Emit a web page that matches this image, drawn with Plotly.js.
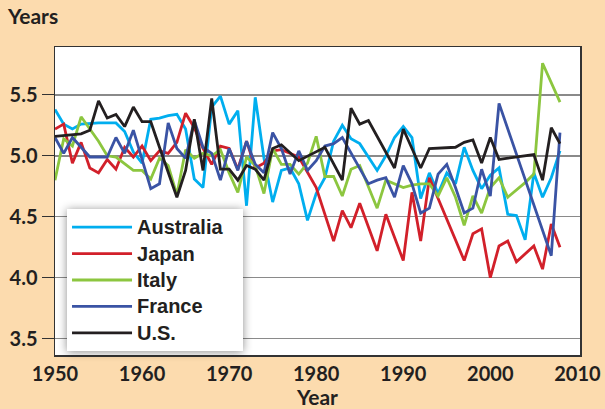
<!DOCTYPE html>
<html><head><meta charset="utf-8">
<script src="https://cdn.plot.ly/plotly-3.0.1.min.js"></script>
<style>html,body{margin:0;padding:0;background:#FCDBAE;}#chart{width:605px;height:409px;}</style>
</head><body><div id="chart"></div>
<script>
const years = [];
for (let y = 1950; y <= 2008; y++) years.push(y);

// values 1950..2008 (null = no visible vertex, line connects across)
const australia = [5.38,5.26,5.22,5.26,null,5.27,null,5.27,5.20,5.03,4.94,5.30,5.31,5.33,5.34,5.22,4.81,4.74,5.40,5.49,5.26,5.37,4.59,5.48,4.98,4.62,4.88,4.90,4.77,4.47,4.69,4.82,5.12,5.25,5.14,5.10,null,4.88,5.00,5.15,5.24,5.15,4.65,4.86,4.69,4.86,4.77,5.07,4.88,4.73,4.84,4.90,4.52,4.51,4.31,4.86,4.66,4.82,5.04];
const japan = [5.22,5.26,4.94,5.11,4.90,4.86,4.97,4.89,5.07,4.99,5.08,4.96,5.04,5.02,5.11,5.35,5.23,5.06,4.93,5.08,5.06,4.89,5.12,4.90,4.94,5.04,5.05,5.02,4.99,null,4.74,null,4.30,4.55,4.41,4.61,null,4.22,4.52,null,4.14,4.70,4.30,4.82,null,null,null,4.14,4.36,4.40,4.00,4.26,4.30,4.13,null,4.26,4.07,4.44,4.25];
const italy = [4.80,5.14,5.08,5.32,5.22,5.12,5.00,4.99,null,4.88,4.88,4.81,4.98,4.92,4.68,5.05,4.98,5.02,5.00,5.05,4.86,4.70,4.99,4.92,4.69,5.06,4.93,4.93,4.85,4.94,5.16,4.83,4.83,4.67,4.89,4.92,null,4.57,4.80,4.77,4.74,4.76,4.77,4.77,4.67,4.82,4.66,4.43,4.67,4.53,4.74,4.82,4.66,null,4.78,4.85,5.76,null,5.44];
const france = [5.15,5.02,5.15,null,4.99,null,4.99,5.15,5.02,5.21,null,4.73,4.77,5.27,5.06,4.98,5.29,5.07,5.02,4.80,5.06,4.88,5.12,4.93,4.86,5.19,5.06,4.85,5.04,4.88,4.96,5.08,5.10,5.15,5.02,null,4.77,4.80,4.82,4.66,4.92,4.77,4.53,4.57,4.85,4.93,4.74,4.53,4.57,4.89,4.67,5.43,null,null,null,null,null,4.18,5.19];
const us = [5.16,null,null,5.18,5.21,5.45,5.31,5.34,5.24,5.40,5.28,5.28,5.07,null,4.66,4.88,5.30,4.88,5.47,4.89,4.89,4.80,4.92,4.89,4.80,5.06,5.09,null,4.96,null,null,5.07,null,4.80,5.39,5.26,5.29,null,null,4.90,5.22,null,4.90,5.06,null,null,5.07,5.11,5.13,4.94,5.15,4.97,null,null,null,5.01,4.80,5.23,5.10];

const names = ['Australia','Japan','Italy','France','U.S.'];
const series = [australia, japan, italy, france, us];
const colors = ['#00AEEF','#D2202A','#8CC63F','#3A53A4','#231F20'];

const traces = series.map((vals, i) => ({
  x: years, y: vals, name: names[i], type: 'scatter', mode: 'lines',
  connectgaps: true,
  line: {color: colors[i], width: 2.8}
}));

const fam = 'Lato, "Noto Sans", sans-serif';
const legFam = '"Liberation Sans", Arial, sans-serif';
const ink = '#231F20';

const layout = {
  width: 605, height: 409,
  paper_bgcolor: '#FCDBAE', plot_bgcolor: '#FFFFFF',
  margin: {l: 55, r: 25, t: 47, b: 54},
  font: {family: fam, color: ink, size: 20},
  title: {text: '<b>Years</b>', x: 8/605, xanchor: 'left', xref: 'container', y: 1 - 17/409, yref: 'container', yanchor: 'middle', font: {family: fam, size: 21, color: ink}},
  showlegend: true,
  legend: {x: 0.0229, y: 0.474, xanchor: 'left', yanchor: 'top', bgcolor: '#FFFFFF', borderwidth: 0,
    font: {family: legFam, size: 18, color: ink, weight: 'bold'}, tracegroupgap: 0, itemwidth: 60},
  xaxis: {
    range: [1950, 2010.3], tickvals: [1950,1960,1970,1980,1990,2000,2010],
    showgrid: false, zeroline: false, showline: true, mirror: true, linecolor: '#333333', linewidth: 1.5,
    ticks: '', tickfont: {family: fam, size: 20, color: ink, weight: 'bold'},
    title: {text: '<b>Year</b>', font: {family: fam, size: 21, color: ink}, standoff: 6}
  },
  yaxis: {
    range: [3.365, 5.893], tickvals: [3.5,4.0,4.5,5.0,5.5], ticktext: ['3.5','4.0','4.5','5.0','5.5'],
    showgrid: true, gridcolor: '#8A8A8A', gridwidth: 1.5, zeroline: false,
    showline: true, mirror: true, linecolor: '#333333', linewidth: 1.5,
    ticks: 'outside', ticklen: 12, tickcolor: '#333333', tickwidth: 1.2,
    tickfont: {family: fam, size: 20, color: ink, weight: 'bold'}
  }
};

Plotly.newPlot('chart', traces, layout, {displayModeBar: false, staticPlot: true}).then(() => {
  const LEG_W = 176;
  const bg = document.querySelector('.legend .bg');
  if (bg) {
    bg.setAttribute('width', LEG_W);
    bg.style.filter = 'drop-shadow(0px 1px 5px rgba(0,0,0,0.45))';
  }
  document.querySelectorAll('clipPath[id^="legend"] rect').forEach(r => r.setAttribute('width', LEG_W));
  // render the legend labels a little larger than the row pitch Plotly derives from the font
  document.querySelectorAll('.legend .legendtext').forEach(t => { t.style.fontSize = '20px'; });
});
</script></body></html>
